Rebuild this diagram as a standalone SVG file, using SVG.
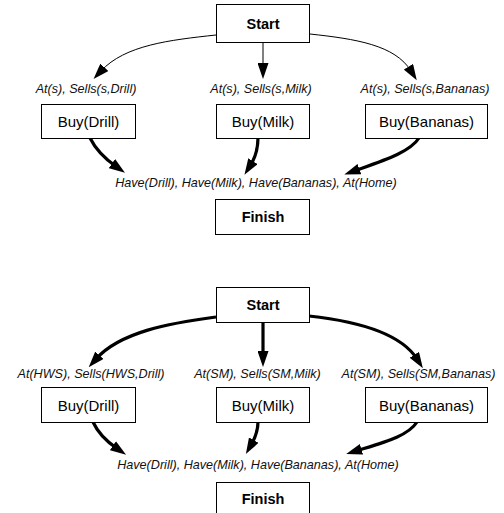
<svg xmlns="http://www.w3.org/2000/svg" width="504" height="513" viewBox="0 0 504 513">
<defs>
<style>
.box{fill:#fff;stroke:#000;stroke-width:1}
.bold{font-family:"Liberation Sans",Arial,sans-serif;font-weight:bold;font-size:14.5px;text-anchor:middle;fill:#000}
.act{font-family:"Liberation Sans",Arial,sans-serif;font-size:15px;text-anchor:middle;fill:#000}
.lab{font-family:"Liberation Sans",Arial,sans-serif;font-style:italic;font-size:12.6px;text-anchor:middle;fill:#111}
.thin{fill:none;stroke:#000;stroke-width:1;marker-end:url(#ah)}
.thick{fill:none;stroke:#000;stroke-width:3.2;marker-end:url(#ah)}
</style>
<marker id="ah" viewBox="0 0 16 11" refX="5" refY="5.5" markerWidth="16" markerHeight="11" markerUnits="userSpaceOnUse" orient="auto">
<path d="M0,0 L16,5.5 L0,11 z" fill="#000"/>
</marker>
</defs>

<g id="connectors">
<path class="thin" d="M216,35 C170,40 125,45 101,71"/>
<path class="thin" d="M263,43 L263,68"/>
<path class="thin" d="M310,34 C356,39 395,45 411,71"/>
<path class="thick" d="M90,138 C96,150 104,158 116,166.5"/>
<path class="thick" d="M258,138 C258,150 255,158 250.3,165.5"/>
<path class="thick" d="M419,138 C410,152 385,160 354.7,170.8"/>
<path class="thick" d="M216,317 C170,323 120,332 96,359"/>
<path class="thick" d="M263,322 L263,356"/>
<path class="thick" d="M309,316 C355,321 400,332 417,359"/>
<path class="thick" d="M93,422 C98,433 106,441 117,448.5"/>
<path class="thick" d="M258,422 C258,432 255,438 251.3,444.5"/>
<path class="thick" d="M417,422 C408,436 385,442 356.7,450.8"/>
</g>

<g id="start1"><rect class="box" x="216.5" y="4.5" width="93" height="38"/><text class="bold" x="263" y="28.5">Start</text></g>
<g id="pre1">
<text class="lab" x="86" y="93">At(s), Sells(s,Drill)</text>
<text class="lab" x="261" y="93">At(s), Sells(s,Milk)</text>
<text class="lab" x="425" y="93">At(s), Sells(s,Bananas)</text>
</g>
<g id="buydrill1"><rect class="box" x="41.5" y="104.5" width="94" height="34"/><text class="act" x="88.5" y="127">Buy(Drill)</text></g>
<g id="buymilk1"><rect class="box" x="216.5" y="104.5" width="93" height="34"/><text class="act" x="263" y="127">Buy(Milk)</text></g>
<g id="buybananas1"><rect class="box" x="365.5" y="104.5" width="122" height="34"/><text class="act" x="426.5" y="127">Buy(Bananas)</text></g>
<g id="goal1"><text class="lab" x="256" y="187">Have(Drill), Have(Milk), Have(Bananas), At(Home)</text></g>
<g id="finish1"><rect class="box" x="215.5" y="199.5" width="94" height="35"/><text class="bold" x="263" y="222">Finish</text></g>

<g id="start2"><rect class="box" x="216.5" y="287.5" width="93" height="35"/><text class="bold" x="263" y="309.5">Start</text></g>
<g id="pre2">
<text class="lab" x="91" y="378">At(HWS), Sells(HWS,Drill)</text>
<text class="lab" x="257.5" y="378">At(SM), Sells(SM,Milk)</text>
<text class="lab" x="418.5" y="378">At(SM), Sells(SM,Bananas)</text>
</g>
<g id="buydrill2"><rect class="box" x="41.5" y="387.5" width="94" height="35"/><text class="act" x="88.5" y="411">Buy(Drill)</text></g>
<g id="buymilk2"><rect class="box" x="216.5" y="387.5" width="93" height="35"/><text class="act" x="263" y="411">Buy(Milk)</text></g>
<g id="buybananas2"><rect class="box" x="365.5" y="387.5" width="122" height="35"/><text class="act" x="426.5" y="411">Buy(Bananas)</text></g>
<g id="goal2"><text class="lab" x="258" y="469">Have(Drill), Have(Milk), Have(Bananas), At(Home)</text></g>
<g id="finish2"><rect class="box" x="216.5" y="482.5" width="93" height="40"/><text class="bold" x="263" y="504">Finish</text></g>
</svg>
